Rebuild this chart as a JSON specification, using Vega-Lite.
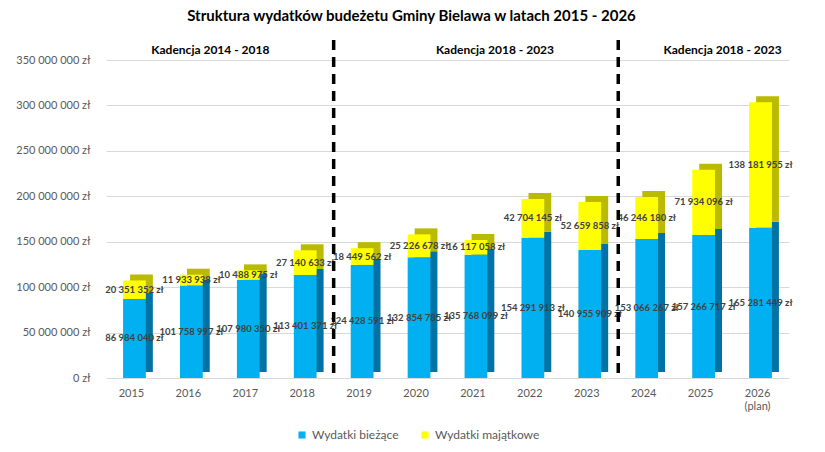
{
  "$schema": "https://vega.github.io/schema/vega-lite/v6.json",
  "width": 683,
  "height": 318,
  "autosize": {"type": "none"},
  "padding": {"left": 106, "top": 60, "right": 36, "bottom": 74},
  "background": "white",
  "title": {
    "text": "Struktura wydatków budeżetu Gminy Bielawa w latach 2015 - 2026",
    "font": "Lato",
    "fontSize": 15,
    "fontWeight": "bold",
    "color": "black",
    "anchor": "middle",
    "frame": "group",
    "dx": -36,
    "offset": 14
  },
  "config": {
    "view": {"stroke": null},
    "locale": {
      "number": {"decimal": ",", "thousands": " ", "grouping": [3], "currency": ["", " zł"]}
    },
    "axis": {
      "labelFont": "Lato",
      "labelFontSize": 11,
      "labelColor": "#595959",
      "domain": false,
      "ticks": false,
      "title": null
    }
  },
  "datasets": {
    "budzet": [
      {"rok": "2015", "typ": "Wydatki bieżące", "kwota": 86984040},
      {"rok": "2015", "typ": "Wydatki majątkowe", "kwota": 20351352},
      {"rok": "2016", "typ": "Wydatki bieżące", "kwota": 101758997},
      {"rok": "2016", "typ": "Wydatki majątkowe", "kwota": 11933938},
      {"rok": "2017", "typ": "Wydatki bieżące", "kwota": 107980350},
      {"rok": "2017", "typ": "Wydatki majątkowe", "kwota": 10488975},
      {"rok": "2018", "typ": "Wydatki bieżące", "kwota": 113401371},
      {"rok": "2018", "typ": "Wydatki majątkowe", "kwota": 27140633},
      {"rok": "2019", "typ": "Wydatki bieżące", "kwota": 124428591},
      {"rok": "2019", "typ": "Wydatki majątkowe", "kwota": 18449562},
      {"rok": "2020", "typ": "Wydatki bieżące", "kwota": 132854785},
      {"rok": "2020", "typ": "Wydatki majątkowe", "kwota": 25226678},
      {"rok": "2021", "typ": "Wydatki bieżące", "kwota": 135768099},
      {"rok": "2021", "typ": "Wydatki majątkowe", "kwota": 16117058},
      {"rok": "2022", "typ": "Wydatki bieżące", "kwota": 154291913},
      {"rok": "2022", "typ": "Wydatki majątkowe", "kwota": 42704145},
      {"rok": "2023", "typ": "Wydatki bieżące", "kwota": 140955909},
      {"rok": "2023", "typ": "Wydatki majątkowe", "kwota": 52659858},
      {"rok": "2024", "typ": "Wydatki bieżące", "kwota": 153066267},
      {"rok": "2024", "typ": "Wydatki majątkowe", "kwota": 46246180},
      {"rok": "2025", "typ": "Wydatki bieżące", "kwota": 157266717},
      {"rok": "2025", "typ": "Wydatki majątkowe", "kwota": 71934096},
      {"rok": "2026", "typ": "Wydatki bieżące", "kwota": 165281449},
      {"rok": "2026", "typ": "Wydatki majątkowe", "kwota": 138181955}
    ],
    "granice": [
      {"rok": "2019"},
      {"rok": "2024"}
    ],
    "kadencje": [
      {"rok": "2016", "napis": "Kadencja 2014 - 2018"},
      {"rok": "2021", "napis": "Kadencja 2018 - 2023"},
      {"rok": "2025", "napis": "Kadencja 2018 - 2023"}
    ]
  },
  "encoding": {
    "x": {
      "field": "rok",
      "type": "ordinal",
      "scale": {"paddingInner": 0.6, "paddingOuter": 0.3},
      "axis": {
        "labelAngle": 0,
        "labelPadding": 9,
        "labelOffset": -3,
        "labelExpr": "datum.value == '2026' ? ['2026', '(plan)'] : datum.value"
      }
    }
  },
  "layer": [
    {
      "data": {"name": "budzet"},
      "mark": {"type": "bar", "xOffset": 7, "x2Offset": 7, "yOffset": -6, "y2Offset": -6},
      "encoding": {
        "y": {
          "field": "kwota",
          "type": "quantitative",
          "stack": "zero",
          "scale": {"domain": [0, 350000000], "nice": false},
          "axis": {
            "values": [0, 50000000, 100000000, 150000000, 200000000, 250000000, 300000000, 350000000],
            "format": "$,.0f",
            "labelPadding": 16,
            "gridColor": "#D9D9D9"
          }
        },
        "color": {
          "field": "typ",
          "type": "nominal",
          "scale": {"domain": ["Wydatki bieżące", "Wydatki majątkowe"], "range": ["#0072A3", "#BABA00"]},
          "legend": null
        },
        "order": {"field": "typ", "sort": "ascending"}
      }
    },
    {
      "data": {"name": "budzet"},
      "mark": {"type": "bar"},
      "encoding": {
        "y": {"field": "kwota", "type": "quantitative", "stack": "zero"},
        "fill": {
          "field": "typ",
          "type": "nominal",
          "scale": {"domain": ["Wydatki bieżące", "Wydatki majątkowe"], "range": ["#00B0F0", "#FFFF00"]},
          "legend": {
            "title": null,
            "orient": "none",
            "direction": "horizontal",
            "legendX": 190,
            "legendY": 369,
            "padding": 0,
            "symbolType": "square",
            "symbolSize": 50,
            "symbolStrokeWidth": 0,
            "labelFont": "Lato",
            "labelFontSize": 12,
            "labelColor": "#595959",
            "columnPadding": 20
          }
        },
        "order": {"field": "typ", "sort": "ascending"}
      }
    },
    {
      "data": {"name": "budzet"},
      "mark": {"type": "text", "font": "Lato", "fontSize": 9.5, "fontWeight": "bold", "color": "#404040"},
      "encoding": {
        "y": {"field": "kwota", "type": "quantitative", "stack": "zero", "bandPosition": 0.5},
        "detail": {"field": "typ"},
        "order": {"field": "typ", "sort": "ascending"},
        "text": {"field": "kwota", "type": "quantitative", "format": "$,.0f"}
      }
    },
    {
      "data": {"name": "granice"},
      "mark": {"type": "rule", "color": "black", "strokeWidth": 3.5, "strokeDash": [10, 7], "yOffset": -20, "y2Offset": 22},
      "encoding": {
        "x": {"field": "rok", "type": "ordinal", "bandPosition": -0.75}
      }
    },
    {
      "data": {"name": "kadencje"},
      "mark": {"type": "text", "font": "Lato", "fontSize": 12, "fontWeight": "bold", "color": "black", "dx": 19, "dy": -10},
      "encoding": {
        "y": {"datum": 350000000, "type": "quantitative"},
        "text": {"field": "napis"}
      }
    }
  ],
  "resolve": {"scale": {"color": "independent"}}
}
